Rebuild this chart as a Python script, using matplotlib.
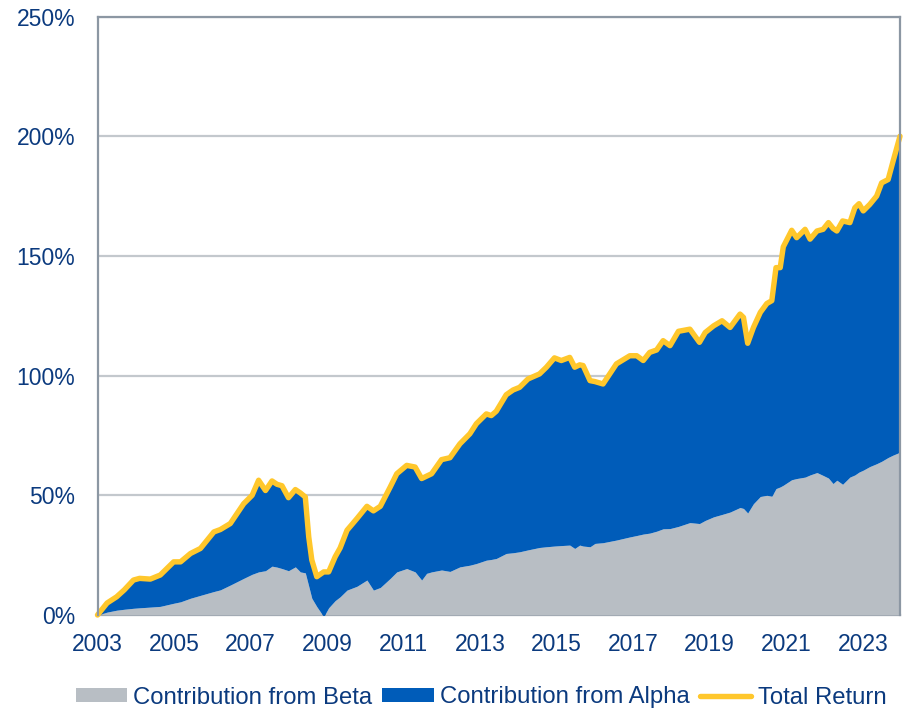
import matplotlib
matplotlib.use("Agg")
import matplotlib.pyplot as plt
from matplotlib.patches import Patch
from matplotlib.lines import Line2D
from matplotlib.ticker import FuncFormatter

plt.rcParams['font.family'] = ['Liberation Sans', 'DejaVu Sans']

# Decimal-year dates of readings
years = [2003.00, 2003.25, 2003.50, 2003.70, 2003.94, 2004.10, 2004.38, 2004.64, 2004.99, 2005.17,
         2005.43, 2005.69, 2006.04, 2006.21, 2006.47, 2006.82, 2007.04, 2007.21, 2007.39, 2007.56,
         2007.69, 2007.82, 2007.99, 2008.17, 2008.30, 2008.43, 2008.52, 2008.60, 2008.73, 2008.91,
         2009.04, 2009.21, 2009.34, 2009.52, 2009.78, 2010.04, 2010.21, 2010.39, 2010.65, 2010.82,
         2011.08, 2011.30, 2011.47, 2011.60, 2011.73, 2011.99, 2012.21, 2012.47, 2012.73, 2012.90,
         2013.16, 2013.29, 2013.42, 2013.68, 2013.86, 2014.03, 2014.25, 2014.55, 2014.73, 2014.94,
         2015.12, 2015.34, 2015.47, 2015.60, 2015.69, 2015.87, 2016.00, 2016.21, 2016.56, 2016.91,
         2017.09, 2017.26, 2017.43, 2017.61, 2017.78, 2017.96, 2018.18, 2018.48, 2018.73, 2018.88,
         2019.10, 2019.32, 2019.53, 2019.79, 2019.88, 2019.99, 2020.14, 2020.32, 2020.49, 2020.62,
         2020.73, 2020.84, 2020.92, 2021.14, 2021.27, 2021.49, 2021.62, 2021.80, 2021.96, 2022.10,
         2022.22, 2022.32, 2022.47, 2022.66, 2022.79, 2022.90, 2023.01, 2023.18, 2023.36, 2023.49,
         2023.66, 2023.79, 2023.97]

# Total return (%)
total_return = [0, 5, 7.6, 10.5, 14.6, 15.3, 15.0, 16.7, 22.2, 22.2,
                25.7, 27.8, 34.7, 35.7, 38.2, 46.5, 50, 56.3, 52, 56,
                54.6, 54, 49, 52.4, 51, 49.3, 32.6, 23, 16, 18,
                18, 24.3, 28, 35.4, 40.3, 45.4, 43.5, 45.4, 53.5, 59,
                62.5, 61.8, 57, 58, 59, 64.9, 65.7, 71.5, 75.7, 79.9,
                84, 83.3, 85.1, 92, 94, 95.1, 98.6, 100.7, 103.5, 107.4,
                106.3, 107.6, 103.5, 104.5, 104.2, 97.9, 97.5, 96.5, 104.9, 108.3,
                108.3, 106.3, 109.7, 110.7, 114.6, 112.5, 118.5, 119.4, 113.9, 118,
                120.8, 122.9, 120.1, 125.7, 124.3, 113.5, 120.1, 126.4, 130.1, 131.3,
                145.1, 145.1, 153.8, 160.7, 157.6, 161.1, 157, 160.4, 161.1, 163.9,
                161.5, 160.4, 164.6, 163.9, 170.1, 171.8, 168.8, 171.5, 175, 180.5,
                181.9, 189.6, 200]

# Contribution from beta (%)
beta = [0, 1.2, 2, 2.4, 2.8, 3.0, 3.3, 3.6, 4.9, 5.5,
        7.0, 8.2, 9.8, 10.5, 12.5, 15.3, 17, 18, 18.5, 20.4,
        20, 19.4, 18.5, 20.1, 18, 17.6, 12, 7, 3.5, -0.7,
        3.0, 6, 7.6, 10.4, 12, 14.6, 10.4, 11.5, 15.3, 18,
        19.4, 18, 14.6, 17.4, 18, 18.8, 18.2, 20.1, 20.8, 21.5,
        22.9, 23.2, 23.6, 25.7, 26, 26.4, 27.2, 28.2, 28.5, 28.8,
        29, 29.2, 27.8, 29.2, 28.8, 28.5, 29.9, 30.2, 31.3, 32.6,
        33.2, 33.8, 34.2, 35, 36, 36.1, 37, 38.6, 38.2, 39.5,
        41, 42, 43, 44.9, 44.5, 42.6, 46.5, 49.5, 50, 49.6,
        52.8, 53.5, 54.2, 56.5, 57, 57.6, 58.5, 59.5, 58.3, 57.2,
        54.9, 56.3, 54.6, 57.6, 58.5, 59.7, 60.5, 62, 63.2, 64.2,
        65.8, 66.8, 68]

year_ticks = [2003, 2005, 2007, 2009, 2011, 2013, 2015, 2017, 2019, 2021, 2023]
pct_ticks = [0, 50, 100, 150, 200, 250]

series_names = ["Contribution from Beta", "Contribution from Alpha", "Total Return"]

GREY = "#B8BEC4"
BLUE = "#005CB9"
YELLOW = "#FFC72C"
NAVY = "#0B3A7E"
SPINE = "#8C97A3"
GRID = "#C3C8CD"

fig = plt.figure(figsize=(9.09, 7.11), dpi=100)
ax = fig.add_axes([97.5 / 909, 1 - 615 / 711, (900 - 97.5) / 909, (615 - 16.5) / 711])

ax.fill_between(years, 0, beta, color=GREY, linewidth=0, zorder=2)
ax.fill_between(years, beta, total_return, color=BLUE, linewidth=0, zorder=3)
ax.plot(years, total_return, color=YELLOW, linewidth=3.9, solid_joinstyle='round',
        solid_capstyle='round', zorder=4, clip_on=False)

ax.set_xlim(2003, 2023.97)
ax.set_ylim(0, 250)
ax.set_xticks(year_ticks)
ax.set_xticklabels([str(y) for y in year_ticks])
ax.set_yticks(pct_ticks)
ax.yaxis.set_major_formatter(FuncFormatter(lambda v, p: f"{int(v)}%"))

ax.grid(axis='y', color=GRID, linewidth=1.6, zorder=1)
ax.set_axisbelow(True)
for s in ax.spines.values():
    s.set_color(SPINE)
    s.set_linewidth(1.6)
    s.set_zorder(5)
ax.spines['bottom'].set_zorder(1)

ax.tick_params(axis='both', length=0, labelsize=16.5, labelcolor=NAVY)
ax.tick_params(axis='y', pad=16)
ax.tick_params(axis='x', pad=13)

handles = [Patch(facecolor=GREY, edgecolor='none'),
           Patch(facecolor=BLUE, edgecolor='none'),
           Line2D([0], [0], color=YELLOW, linewidth=3.9, solid_capstyle='round')]
leg = fig.legend(handles, series_names, loc='center', bbox_to_anchor=(481 / 909, 1 - 697.5 / 711),
                 ncol=3, frameon=False, fontsize=17.2, handlelength=2.15, handleheight=0.55,
                 handletextpad=0.27, columnspacing=0.42, borderpad=0, borderaxespad=0)
for t in leg.get_texts():
    t.set_color(NAVY)

fig.savefig("out.png", dpi=100)
